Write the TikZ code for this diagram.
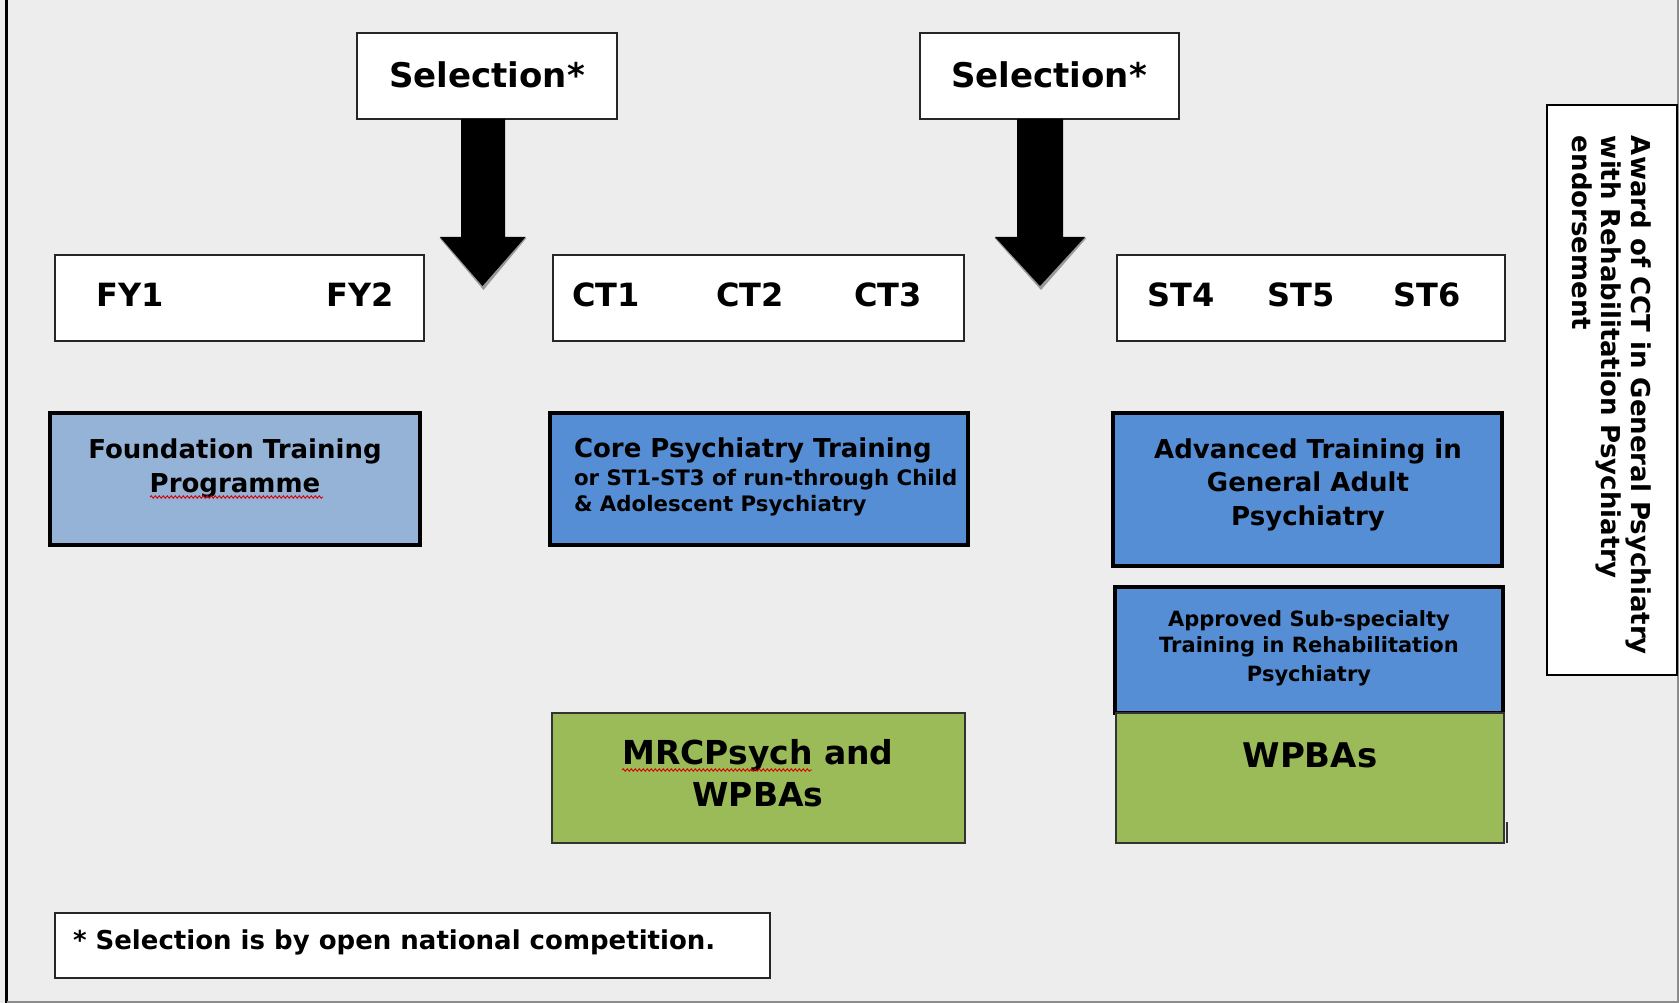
\documentclass[tikz,border=0pt]{standalone}
\usepackage{fontspec}
\setmainfont{DejaVu Sans}
\usetikzlibrary{decorations.pathmorphing}
\definecolor{bgc}{HTML}{EDEDED}
\definecolor{lightblue}{HTML}{95B3D7}
\definecolor{midblue}{HTML}{558ED5}
\definecolor{leaf}{HTML}{9BBB59}
\newcommand{\fsz}[1]{\fontsize{#1}{#1}\selectfont\bfseries}
\begin{document}
\begin{tikzpicture}[x=1pt,y=-1pt,
  whitebox/.style={draw=black!85, line width=1.5pt, fill=white, inner sep=0pt, outer sep=0pt},
  thickbox/.style={draw=black, line width=3.5pt, inner sep=0pt, outer sep=0pt},
  greenbox/.style={draw=black!80, line width=1.8pt, fill=leaf, inner sep=0pt, outer sep=0pt},
  lbl/.style={inner sep=0pt, outer sep=0pt, text=black},
  bigarrow/.style={fill=black},
  arrowshadow/.style={fill=black!40},
  squiggle/.style={draw=red!85!black, line width=0.9pt, decorate, decoration={snake, amplitude=1.2pt, segment length=4pt}}
]
% background and page frame
\fill[bgc] (0,0) rectangle (1679,1003);
\useasboundingbox (0,0) rectangle (1679,1003);
\draw[black, line width=3pt] (6.5,0) -- (6.5,1003);
\draw[black!45, line width=1.5pt] (6.5,1002) -- (1679,1002);
\draw[black!45, line width=1.5pt] (1678,0) -- (1678,1003);

% selection boxes
\node[whitebox, minimum width=260pt, minimum height=86pt] (sel1) at (487,76) {};
\node[whitebox, minimum width=259pt, minimum height=86pt] (sel2) at (1049.5,76) {};
\node[lbl, anchor=base] (sel1t) at (487,88) {\fsz{34}Selection*};
\node[lbl, anchor=base] (sel2t) at (1049,88) {\fsz{34}Selection*};

% arrow end points
\coordinate (tip1) at (482.5,286);
\coordinate (tip2) at (1040,286);

% arrow 1 (head shadow + body)
\fill[arrowshadow] ([shift={(-43,-48)}]tip1) -- ([shift={(44,-48)}]tip1) -- ([shift={(1,4)}]tip1) -- cycle;
\fill[bigarrow] (sel1.south -| tip1) ++(-21.5,0) -- ++(44,0) -- ++(0,118) -- ++(20.5,0) -- (tip1) -- ++(-42.5,-49) -- ++(21,0) -- cycle;
% arrow 2
\fill[arrowshadow] ([shift={(-45.5,-48)}]tip2) -- ([shift={(46.5,-48)}]tip2) -- ([shift={(1,4)}]tip2) -- cycle;
\fill[bigarrow] (sel2.south -| tip2) ++(-23,0) -- ++(46,0) -- ++(0,118) -- ++(22,0) -- (tip2) -- ++(-45,-49) -- ++(22,0) -- cycle;

% year boxes
\node[whitebox, minimum width=369pt, minimum height=86pt] (fy) at (239.5,298) {};
\node[whitebox, minimum width=411pt, minimum height=86pt] (ct) at (758.5,298) {};
\node[whitebox, minimum width=388pt, minimum height=86pt] (st) at (1311,298) {};
\node[lbl, anchor=base] (fy1) at (130,306) {\fsz{32}FY1};
\node[lbl, anchor=base] (fy2) at (360,306) {\fsz{32}FY2};
\node[lbl, anchor=base] (ct1) at (606,306) {\fsz{32}CT1};
\node[lbl, anchor=base] (ct2) at (750,306) {\fsz{32}CT2};
\node[lbl, anchor=base] (ct3) at (888,306) {\fsz{32}CT3};
\node[lbl, anchor=base] (st4) at (1181,306) {\fsz{32}ST4};
\node[lbl, anchor=base] (st5) at (1301,306) {\fsz{32}ST5};
\node[lbl, anchor=base] (st6) at (1427,306) {\fsz{32}ST6};

% programme boxes
\node[thickbox, fill=lightblue, minimum width=370pt, minimum height=132pt] (found) at (235,479) {};
\node[lbl, anchor=base] (found1) at (235,458) {\fsz{26}Foundation Training};
\node[lbl, anchor=base] (found2) at (235,492) {\fsz{26}Programme};
\draw[squiggle] (150,497) -- (323,497);

\node[thickbox, fill=midblue, minimum width=418pt, minimum height=132pt] (core) at (759,479) {};
\node[lbl, anchor=base west] (core1) at (574,457) {\fsz{26}Core Psychiatry Training};
\node[lbl, anchor=base west] (core2) at (574,485) {\fsz{21.3}or ST1-ST3 of run-through Child};
\node[lbl, anchor=base west] (core3) at (574,511) {\fsz{21.3}\& Adolescent Psychiatry};

\node[thickbox, fill=midblue, minimum width=389pt, minimum height=153pt] (adv) at (1307.5,489.5) {};
\node[lbl, anchor=base] (adv1) at (1308,458) {\fsz{26}Advanced Training in};
\node[lbl, anchor=base] (adv2) at (1308,491) {\fsz{26}General Adult};
\node[lbl, anchor=base] (adv3) at (1308,525) {\fsz{26}Psychiatry};

\node[thickbox, fill=midblue, minimum width=388pt, minimum height=126pt] (sub) at (1309,650) {};
\node[lbl, anchor=base] (sub1) at (1309,626) {\fsz{21}Approved Sub-specialty};
\node[lbl, anchor=base] (sub2) at (1309,652) {\fsz{21}Training in Rehabilitation};
\node[lbl, anchor=base] (sub3) at (1309,681) {\fsz{21}Psychiatry};

% assessment boxes
\node[greenbox, minimum width=413pt, minimum height=130pt] (mrc) at (758.5,778) {};
\node[lbl, anchor=base] (mrc1) at (758,764) {\fsz{33}MRCPsych and};
\node[lbl, anchor=base] (mrc2) at (758,806) {\fsz{33}WPBAs};
\draw[squiggle] (622,770) -- (812,770);

\node[greenbox, minimum width=388pt, minimum height=130pt] (wpba) at (1310,778) {};
\node[lbl, anchor=base] (wpba1) at (1310,767) {\fsz{34}WPBAs};
\coordinate (tickTop) at (1507,822);
\draw[black!80, line width=1.3pt] (tickTop) -- (wpba.south east -| tickTop);

% award box
\node[whitebox, draw=black, line width=2.5pt, minimum width=130pt, minimum height=570pt] (award) at (1612,390) {};
\node[lbl, anchor=base west, rotate=-90] (award1) at (1631,136) {\fsz{26}Award of CCT in General Psychiatry};
\node[lbl, anchor=base west, rotate=-90] (award2) at (1601,136) {\fsz{26}with Rehabilitation Psychiatry};
\node[lbl, anchor=base west, rotate=-90] (award3) at (1572,136) {\fsz{26}endorsement};

% footnote
\node[whitebox, minimum width=715pt, minimum height=65pt] (foot) at (412.5,945.5) {};
\node[lbl, anchor=base west] (foot1) at (73,949) {\fsz{26}* Selection is by open national competition.};
\end{tikzpicture}
\end{document}
